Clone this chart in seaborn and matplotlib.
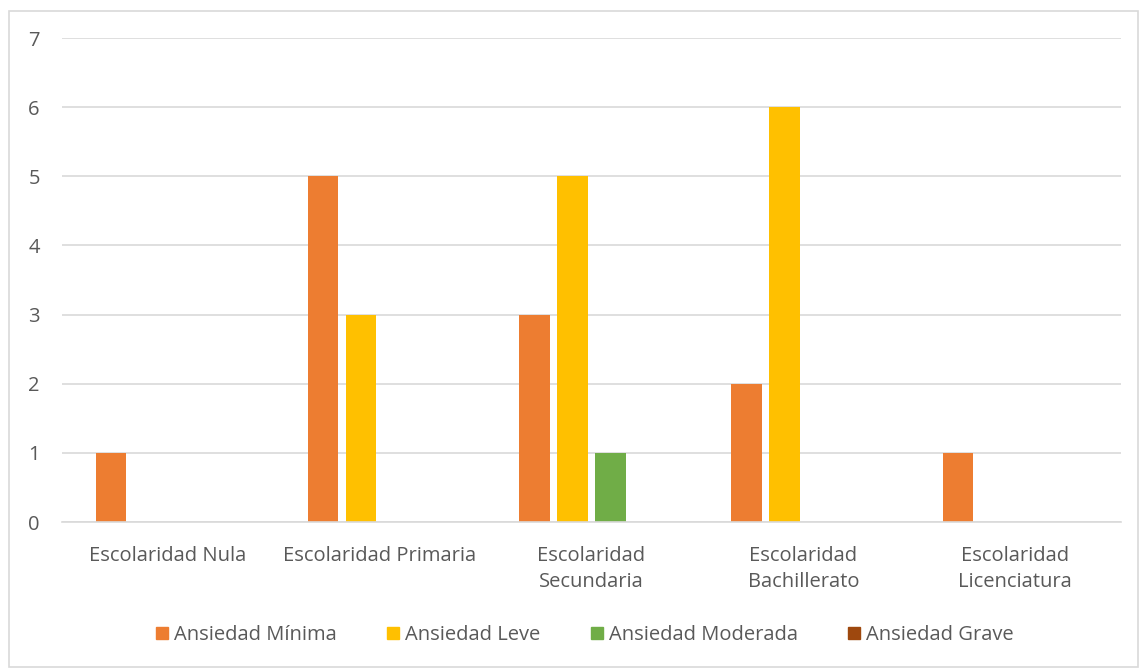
import pandas as pd
import seaborn as sns
import matplotlib.pyplot as plt
from matplotlib.patches import Rectangle

# Data
categorias = ['Escolaridad Nula', 'Escolaridad Primaria', 'Escolaridad\nSecundaria',
              'Escolaridad\nBachillerato', 'Escolaridad\nLicenciatura']
series = ['Ansiedad Mínima', 'Ansiedad Leve', 'Ansiedad Moderada', 'Ansiedad Grave']
minima = [1, 5, 3, 2, 1]
leve = [0, 3, 5, 6, 0]
moderada = [0, 0, 1, 0, 0]
grave = [0, 0, 0, 0, 0]
colores = ['#ED7D31', '#FFC000', '#70AD47', '#9E480E']

rows = []
for s, vals in zip(series, [minima, leve, moderada, grave]):
    for c, v in zip(categorias, vals):
        rows.append({'cat': c, 'serie': s, 'valor': v})
df = pd.DataFrame(rows)

sns.set_style('white')
plt.rcParams['font.family'] = ['Open Sans', 'DejaVu Sans']

fig = plt.figure(figsize=(11.4, 6.69), dpi=100)
ax = fig.add_axes([62 / 1140, 1 - 522 / 669, (1121 - 62) / 1140, (522 - 38) / 669])

sns.barplot(data=df, x='cat', y='valor', hue='serie', order=categorias,
            hue_order=series, palette=colores, width=0.717, gap=0.2,
            saturation=1, linewidth=0, ax=ax, legend=False)

ax.set_ylim(0, 7)
ax.set_yticks(range(0, 8))
ax.grid(axis='y', color='#D9D9D9', linewidth=1.2)
ax.set_axisbelow(True)
for sp in ['top', 'right', 'left']:
    ax.spines[sp].set_visible(False)
ax.spines['bottom'].set_color('#D9D9D9')
ax.spines['bottom'].set_linewidth(1.2)
ax.tick_params(axis='both', length=0, labelsize=14.5, colors='#595959')
ax.tick_params(axis='x', pad=17)
ax.tick_params(axis='y', pad=16)
for lbl in ax.get_xticklabels():
    lbl.set_linespacing(1.45)
ax.set_xlabel('')
ax.set_ylabel('')

handles = [Rectangle((0, 0), 1, 1, color=c) for c in colores]
fig.legend(handles, series, loc='center', bbox_to_anchor=(585 / 1140, 1 - 635 / 669),
           ncol=4, frameon=False, fontsize=14.5, labelcolor='#595959',
           handlelength=0.6, handleheight=0.6, handletextpad=0.3, columnspacing=2.5)

# outer chart border
fig.patches.append(Rectangle((9 / 1140, 2 / 669), 1129 / 1140, 656 / 669,
                             transform=fig.transFigure, fill=False,
                             edgecolor='#D9D9D9', linewidth=1.2))

fig.savefig('out.png', dpi=100)
